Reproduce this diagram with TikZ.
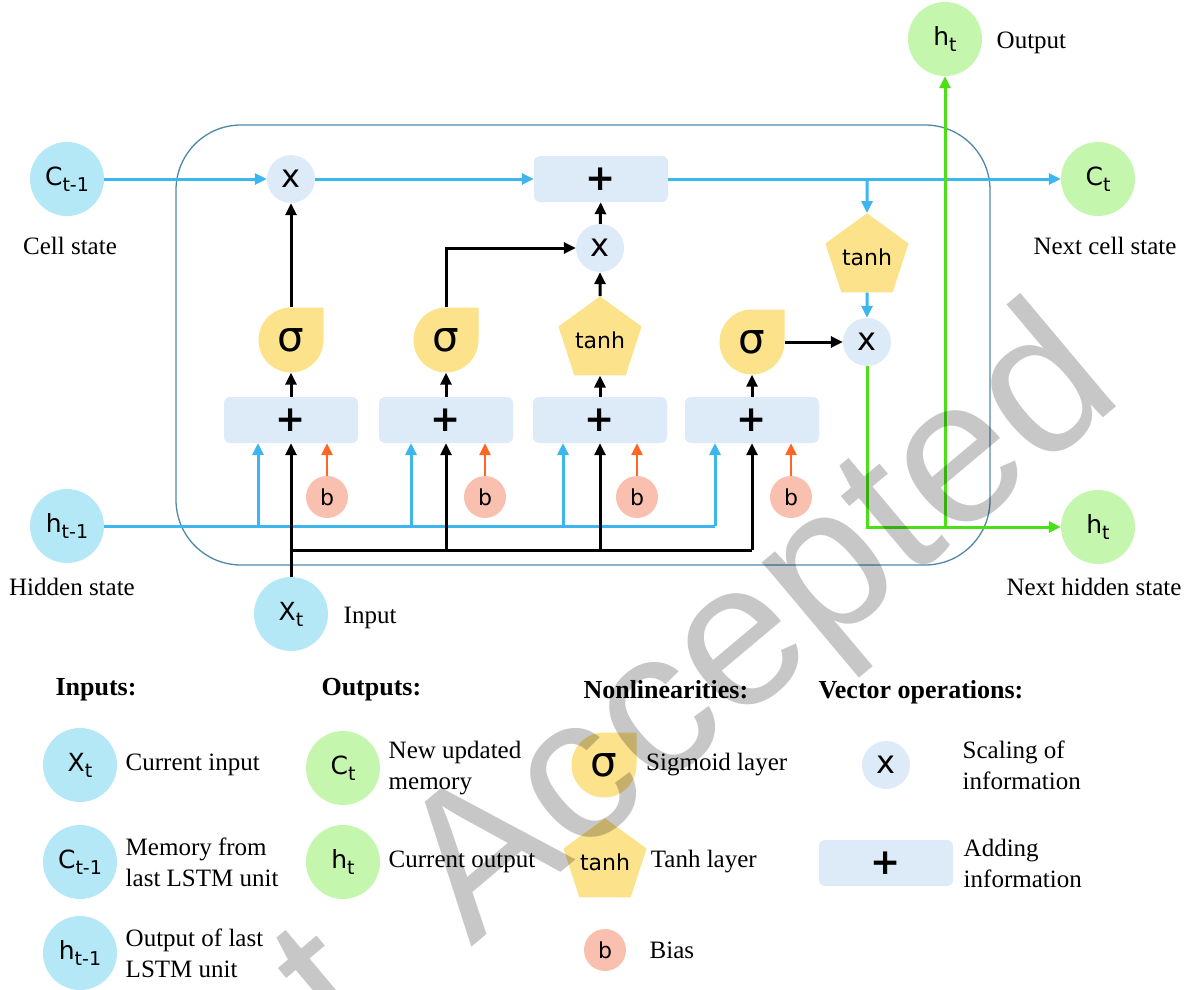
\documentclass[tikz,border=0pt]{standalone}
\usepackage{fontspec}
\setmainfont{Liberation Serif}
\setsansfont{DejaVu Sans}
\newfontfamily\markfont{Liberation Sans}
\usetikzlibrary{arrows.meta,positioning,shapes.geometric}
\definecolor{InCyan}{HTML}{B4E8F7}
\definecolor{OutGreen}{HTML}{C5F6AE}
\definecolor{OpBlue}{HTML}{DDEBF8}
\definecolor{GateYellow}{HTML}{FCE28A}
\definecolor{BiasPink}{HTML}{F9C0B0}
\definecolor{CellBlue}{HTML}{3DB5EE}
\definecolor{HGreen}{HTML}{4ADF16}
\definecolor{BiasOrange}{HTML}{FF6523}
\definecolor{FrameBlue}{HTML}{4E88A8}
\newcommand{\sbs}[2]{#1\raisebox{-.45ex}{\fontsize{19}{19}\selectfont #2}}

\begin{document}
\begin{tikzpicture}[x=1pt,y=1pt,
   inp/.style={circle,fill=InCyan,minimum size=74pt,inner sep=0pt,
    font=\sffamily\fontsize{25}{25}\selectfont},
   outp/.style={inp,fill=OutGreen},
   mul/.style={circle,fill=OpBlue,minimum size=48pt,inner sep=0pt,
    font=\sffamily\fontsize{32}{32}\selectfont},
   add/.style={rectangle,rounded corners=6pt,fill=OpBlue,minimum width=134pt,
    minimum height=46pt,inner sep=0pt,font=\sffamily\bfseries\fontsize{36}{36}\selectfont},
   bias/.style={circle,fill=BiasPink,minimum size=42pt,inner sep=0pt,
    font=\sffamily\fontsize{22}{22}\selectfont},
   sig/.style={rectangle,minimum width=65pt,minimum height=65pt,inner sep=0pt,
    font=\sffamily\fontsize{42}{42}\selectfont,
    path picture={\fill[GateYellow] (path picture bounding box.north east)
     -- (path picture bounding box.east)
     arc[start angle=0,end angle=-180,radius=32.5pt]
     arc[start angle=180,end angle=90,radius=32.5pt] -- cycle;}},
   tnh/.style={regular polygon,regular polygon sides=5,fill=GateYellow,
    minimum size=74pt,inner sep=0pt,font=\sffamily\fontsize{22}{22}\selectfont},
   lab/.style={font=\fontsize{25}{31}\selectfont,align=left},
   head/.style={font=\bfseries\fontsize{26}{26}\selectfont,anchor=west},
   tip/.style={-{Triangle[length=12pt,width=11pt]}},
   cellline/.style={tip,draw=CellBlue,line width=3pt},
   hline/.style={tip,draw=HGreen,line width=3pt},
   gateline/.style={tip,draw=black,line width=3pt},
   biasline/.style={tip,draw=BiasOrange,line width=2.5pt}]
  \useasboundingbox (0,0) rectangle (1195,-990);

  % LSTM unit frame
  \draw[FrameBlue,line width=1.3pt,rounded corners=65pt] (176,-125) rectangle (990,-565);

  % states in and out
  \node[inp] (cprev) at (67,-179) {\sbs{C}{t-1}};
  \node[inp] (hprev) at (67,-526) {\sbs{h}{t-1}};
  \node[inp] (xt) at (291,-614) {\sbs{X}{t}};
  \node[outp] (cnext) at (1098,-179) {\sbs{C}{t}};
  \node[outp] (hnext) at (1098,-527) {\sbs{h}{t}};
  \node[outp] (hout) at (945,-39) {\sbs{h}{t}};

  \node[lab] at (70,-246) {Cell state};
  \node[lab] at (72,-587) {Hidden state};
  \node[lab,right=12pt of xt,yshift=-4pt] {Input};
  \node[lab,right=11pt of hout,yshift=-4pt] {Output};
  \node[lab] at (1105,-246) {Next cell state};
  \node[lab] at (1094,-587) {Next hidden state};

  % vector operations
  \node[mul] (m1) at (291,-179) {x};
  \node[mul] (m2) at (600,-248) {x};
  \node[mul] (m3) at (867,-342) {x};
  \node[add] (ac) at (601,-179) {+};
  \node[add] (a1) at (291,-420) {+};
  \node[add] (a2) at (446,-420) {+};
  \node[add] (a3) at (600,-420) {+};
  \node[add] (a4) at (752,-420) {+};

  % gates
  \node[sig] (g1) at (291,-340) {σ};
  \node[sig] (g2) at (446,-340) {σ};
  \node[tnh] (t1) at (600,-340) {tanh};
  \node[sig] (g3) at (752,-342) {σ};
  \node[tnh] (t2) at (867,-257) {tanh};

  % biases
  \node[bias] (b1) at (327,-497) {b};
  \node[bias] (b2) at (485,-497) {b};
  \node[bias] (b3) at (637,-497) {b};
  \node[bias] (b4) at (791,-497) {b};

  % cell state path
  \draw[cellline] (cprev) -- (m1);
  \draw[cellline] (m1) -- (ac);
  \draw[cellline] (ac) -- (cnext);
  \coordinate (split) at (t2 |- ac);
  \draw[cellline] (split) -- (t2);
  \draw[cellline] (t2) -- (m3);

  % hidden state and input feeds
  \coordinate (hend) at (715,-526);
  \draw[CellBlue,line width=3pt] (hprev) -- (hend);
  \foreach \x in {258,411,563,715}
    \draw[cellline] (\x,-526) -- (\x,-443);
  \coordinate (xbus) at (291,-550);
  \draw[black,line width=3pt] (xbus) -- (752,-550);
  \draw[gateline] (xt) -- (a1);
  \foreach \a in {a2,a3,a4}
    \draw[gateline] (\a |- xbus) -- (\a);
  \foreach \b/\a in {b1/a1,b2/a2,b3/a3,b4/a4}
    \draw[biasline] (\b) -- (\b |- \a.south);

  % gate outputs
  \draw[gateline] (a1) -- (g1);
  \draw[gateline] (a2) -- (g2);
  \draw[gateline] (a3) -- (t1);
  \draw[gateline] (a4) -- (g3);
  \draw[gateline] (g1) -- (m1);
  \draw[gateline] (g2) |- (m2);
  \draw[gateline] (t1) -- (m2);
  \draw[gateline] (m2) -- (ac);
  \draw[gateline] (g3) -- (m3);

  % new hidden state
  \coordinate (hsplit) at (hout |- hnext);
  \draw[hline] (m3) |- (hnext);
  \draw[hline] (hsplit) -- (hout);

  % legend
  \node[head] at (52,-690) {Inputs:};
  \node[head] at (318,-690) {Outputs:};
  \node[head] at (580,-690) {Nonlinearities:};
  \node[head] at (815,-692) {Vector operations:};

  \node[inp] (lx) at (80,-765) {\sbs{X}{t}};
  \node[inp] (lc) at (80,-862) {\sbs{C}{t-1}};
  \node[inp] (lh) at (80,-953) {\sbs{h}{t-1}};
  \node[lab,right=5pt of lx] {Current input};
  \node[lab,right=5pt of lc] {Memory from\\last LSTM unit};
  \node[lab,right=5pt of lh] {Output of last\\LSTM unit};

  \node[outp] (lco) at (343,-768) {\sbs{C}{t}};
  \node[outp] (lho) at (343,-862) {\sbs{h}{t}};
  \node[lab,right=5pt of lco] {New updated\\memory};
  \node[lab,right=5pt of lho] {Current output};

  \node[sig] (ls) at (604,-765) {σ};
  \node[tnh] (lt) at (605,-862) {tanh};
  \node[bias] (lb) at (605,-950) {b};
  \node[lab,right=6pt of ls] {Sigmoid layer};
  \node[lab,right=5pt of lt] {Tanh layer};
  \node[lab,right=20pt of lb] {Bias};

  \node[mul] (lm) at (886,-765) {x};
  \node[add] (la) at (886,-863) {+};
  \node[lab,right=49pt of lm] {Scaling of\\information};
  \node[lab,right=7pt of la] {Adding\\information};

  % watermark
  \node[black,opacity=.22,rotate=40,anchor=base east,inner sep=0pt,
    font=\markfont\fontsize{205}{205}\selectfont] (mark) at (1127,-398) {t\hspace{.25em} Accepted};
\end{tikzpicture}
\end{document}
